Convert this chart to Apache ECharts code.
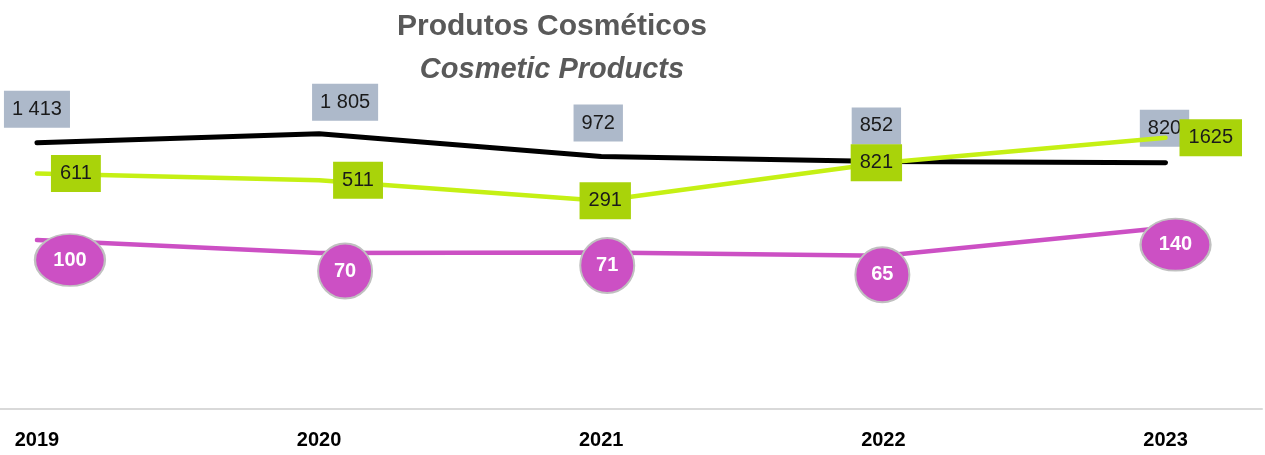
<!DOCTYPE html>
<html>
<head>
<meta charset="utf-8">
<script src="https://cdn.jsdelivr.net/npm/echarts@6/dist/echarts.min.js"></script>
<style>
  html, body { margin: 0; padding: 0; background: #fff; }
  #chart { width: 1265px; height: 455px; }
</style>
</head>
<body>
<div id="chart"></div>
<script>
// anos
const years = [2019, 2020, 2021, 2022, 2023]
// séries
const blackValues = [1413, 1805, 972, 852, 820]
const greenValues = [611, 511, 291, 821, 1625]
const pinkValues = [100, 70, 71, 65, 140]

function spaced(v) {
    return String(v).replace(/\B(?=(\d{3})+(?!\d))/g, ' ')
}

function initChart() {
    const myChart = echarts.init(document.querySelector('#chart'))

    // ajustes dos rótulos (como no gráfico original)
    const blackShift = [[0, 0], [26, 2], [-3, 0], [-7, -2], [-1, -1]]
    const greenPos = ['right', 'right', 'inside', 'inside', 'right']
    const greenShift = [[0, 0], [0, 0], [4, 0], [-7, 0], [0, 0]]
    const pinkShift = [[33, 20], [26, 18], [6, 13], [-1, 19], [10, 17]]

    const option = {
        animation: false,
        title: {
            text: '{a|Produtos Cosméticos}\n{b|Cosmetic Products}',
            left: 547,
            top: 0,
            textAlign: 'center',
            textStyle: {
                rich: {
                    a: {
                        fontFamily: 'Liberation Sans',
                        fontSize: 30,
                        fontWeight: 'bold',
                        color: '#595959',
                        lineHeight: 43
                    },
                    b: {
                        fontFamily: 'Liberation Sans',
                        fontSize: 29,
                        fontWeight: 'bold',
                        fontStyle: 'italic',
                        color: '#595959',
                        lineHeight: 43
                    }
                }
            }
        },
        grid: {
            left: 0,
            right: 3,
            top: 71,
            bottom: 46
        },
        xAxis: {
            type: 'value',
            min: 2018.869,
            max: 2023.342,
            splitLine: { show: false },
            axisTick: { show: false },
            axisLine: {
                show: true,
                onZero: false,
                lineStyle: { color: '#d9d9d9', width: 2 }
            },
            axisLabel: {
                customValues: years,
                formatter: v => String(v),
                margin: 21,
                fontFamily: 'Liberation Sans',
                fontSize: 20,
                fontWeight: 'bold',
                color: '#000'
            }
        },
        yAxis: {
            type: 'log',
            min: 1,
            max: 10000,
            show: false
        },
        series: [
            {
                type: 'line',
                data: years.map((y, i) => ({
                    value: [y, blackValues[i]],
                    label: { offset: blackShift[i] }
                })),
                symbol: 'circle',
                symbolSize: 2,
                itemStyle: { color: '#000' },
                lineStyle: { color: '#000', width: 5, cap: 'round' },
                label: {
                    show: true,
                    position: 'top',
                    distance: 14,
                    formatter: p => spaced(p.value[1]),
                    fontFamily: 'Liberation Sans',
                    fontSize: 20,
                    lineHeight: 21,
                    color: '#1a1a1a',
                    backgroundColor: '#adb9ca',
                    padding: [8, 8, 8, 8]
                },
                z: 2
            },
            {
                type: 'line',
                data: years.map((y, i) => ({
                    value: [y, greenValues[i]],
                    label: { position: greenPos[i], offset: greenShift[i] }
                })),
                symbol: 'circle',
                symbolSize: 2,
                itemStyle: { color: '#c5f014' },
                lineStyle: { color: '#c5f014', width: 4.5, cap: 'round' },
                label: {
                    show: true,
                    distance: 13,
                    formatter: p => String(p.value[1]),
                    fontFamily: 'Liberation Sans',
                    fontSize: 20,
                    lineHeight: 21,
                    color: '#1a1a1a',
                    backgroundColor: '#a9d30a',
                    padding: [8, 9, 8, 9]
                },
                z: 3
            },
            {
                type: 'line',
                data: years.map((y, i) => ({
                    value: [y, pinkValues[i]],
                    symbolOffset: pinkShift[i],
                    symbolSize: pinkValues[i] >= 100 ? [70, 52] : [54, 55]
                })),
                symbol: 'circle',
                itemStyle: {
                    color: '#cc50c4',
                    borderColor: '#c0c0c0',
                    borderWidth: 2
                },
                lineStyle: { color: '#cc50c4', width: 4.5, cap: 'round' },
                label: {
                    show: true,
                    position: 'inside',
                    formatter: p => String(p.value[1]),
                    fontFamily: 'Liberation Sans',
                    fontSize: 20,
                    fontWeight: 'bold',
                    color: '#fff'
                },
                z: 4
            }
        ]
    }
    myChart.setOption(option)
}

initChart()
</script>
</body>
</html>
